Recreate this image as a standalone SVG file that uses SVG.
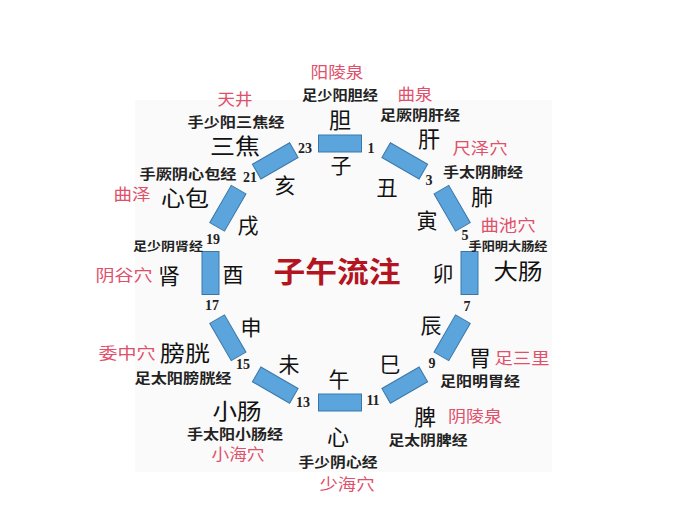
<svg xmlns="http://www.w3.org/2000/svg" xmlns:xlink="http://www.w3.org/1999/xlink" width="700" height="530" viewBox="0 0 700 530">
<style>
text{font-family:"Noto Sans CJK SC","Noto Sans CJK TC",sans-serif;text-anchor:middle;dominant-baseline:central}
.seg{fill:#5ba4dc;stroke:#3b78aa;stroke-width:1}
.br{font-size:21px;fill:#111}
.org{font-size:22px;fill:#111}
.mer{font-size:13.5px;font-weight:bold;fill:#222}
.mer2{font-size:12.5px;font-weight:bold;fill:#222}
.pt{font-size:16px;fill:#e0506b}
.num{font-family:"Liberation Serif","DejaVu Serif",serif;font-size:14px;font-weight:bold;fill:#222}
.title{font-size:29px;font-weight:bold;fill:#b3141f}
</style>
<defs>
<rect id="seg" x="318.5" y="135" width="43" height="17"/>
</defs>
<rect width="700" height="530" fill="#ffffff"/>
<rect x="135" y="100" width="417" height="372" fill="#fafafa"/>
<g id="title"><text class="title" x="337" y="270" textLength="127" lengthAdjust="spacingAndGlyphs">子午流注</text></g>
<g id="zi">
<use xlink:href="#seg" class="seg"/>
<text class="br" x="341" y="164">子</text>
<text class="org" x="340" y="118">胆</text>
<text class="mer" x="340" y="94" textLength="76" lengthAdjust="spacingAndGlyphs">足少阳胆经</text>
<text class="pt" x="337" y="71" textLength="53" lengthAdjust="spacingAndGlyphs">阳陵泉</text>
</g>
<g id="chou">
<use xlink:href="#seg" class="seg" transform="rotate(30 340 273)"/>
<text class="br" x="387" y="186">丑</text>
<text class="org" x="429" y="137">肝</text>
<text class="mer" x="420" y="114" textLength="80" lengthAdjust="spacingAndGlyphs">足厥阴肝经</text>
<text class="pt" x="415" y="93" textLength="35" lengthAdjust="spacingAndGlyphs">曲泉</text>
</g>
<g id="yin">
<use xlink:href="#seg" class="seg" transform="rotate(60 340 273)"/>
<text class="br" x="427" y="219">寅</text>
<text class="org" x="482" y="195">肺</text>
<text class="mer" x="483" y="171" textLength="80" lengthAdjust="spacingAndGlyphs">手太阴肺经</text>
<text class="pt" x="480" y="147" textLength="55" lengthAdjust="spacingAndGlyphs">尺泽穴</text>
</g>
<g id="mao">
<use xlink:href="#seg" class="seg" transform="rotate(90 340 273)"/>
<text class="br" x="443" y="272">卯</text>
<text class="org" x="518" y="269" textLength="49" lengthAdjust="spacingAndGlyphs">大肠</text>
<text class="mer2" x="508" y="245" textLength="79" lengthAdjust="spacingAndGlyphs">手阳明大肠经</text>
<text class="pt" x="508" y="224" textLength="55" lengthAdjust="spacingAndGlyphs">曲池穴</text>
</g>
<g id="chen">
<use xlink:href="#seg" class="seg" transform="rotate(120 340 273)"/>
<text class="br" x="431" y="324">辰</text>
<text class="org" x="480" y="356">胃</text>
<text class="mer" x="480" y="380" textLength="80" lengthAdjust="spacingAndGlyphs">足阳明胃经</text>
<text class="pt" x="522" y="357" textLength="55" lengthAdjust="spacingAndGlyphs">足三里</text>
</g>
<g id="si">
<use xlink:href="#seg" class="seg" transform="rotate(150 340 273)"/>
<text class="br" x="390" y="363">巳</text>
<text class="org" x="425" y="415">脾</text>
<text class="mer" x="428" y="439" textLength="79" lengthAdjust="spacingAndGlyphs">足太阴脾经</text>
<text class="pt" x="475" y="415" textLength="54" lengthAdjust="spacingAndGlyphs">阴陵泉</text>
</g>
<g id="wu">
<use xlink:href="#seg" class="seg" transform="rotate(180 340 273)"/>
<text class="br" x="339" y="378">午</text>
<text class="org" x="338" y="435">心</text>
<text class="mer" x="338" y="461" textLength="79" lengthAdjust="spacingAndGlyphs">手少阴心经</text>
<text class="pt" x="347" y="483" textLength="55" lengthAdjust="spacingAndGlyphs">少海穴</text>
</g>
<g id="wei">
<use xlink:href="#seg" class="seg" transform="rotate(210 340 273)"/>
<text class="br" x="289" y="363">未</text>
<text class="org" x="237" y="409" textLength="49" lengthAdjust="spacingAndGlyphs">小肠</text>
<text class="mer" x="235" y="433" textLength="96" lengthAdjust="spacingAndGlyphs">手太阳小肠经</text>
<text class="pt" x="238" y="453" textLength="53" lengthAdjust="spacingAndGlyphs">小海穴</text>
</g>
<g id="shen">
<use xlink:href="#seg" class="seg" transform="rotate(240 340 273)"/>
<text class="br" x="251" y="326">申</text>
<text class="org" x="185" y="351" textLength="50" lengthAdjust="spacingAndGlyphs">膀胱</text>
<text class="mer" x="183" y="377" textLength="97" lengthAdjust="spacingAndGlyphs">足太阳膀胱经</text>
<text class="pt" x="127" y="352" textLength="57" lengthAdjust="spacingAndGlyphs">委中穴</text>
</g>
<g id="you">
<use xlink:href="#seg" class="seg" transform="rotate(270 340 273)"/>
<text class="br" x="233" y="273">酉</text>
<text class="org" x="169" y="274">肾</text>
<text class="mer2" x="168" y="245" textLength="70" lengthAdjust="spacingAndGlyphs">足少阴肾经</text>
<text class="pt" x="124" y="274" textLength="57" lengthAdjust="spacingAndGlyphs">阴谷穴</text>
</g>
<g id="xu">
<use xlink:href="#seg" class="seg" transform="rotate(300 340 273)"/>
<text class="br" x="248" y="224">戌</text>
<text class="org" x="185" y="196" textLength="48" lengthAdjust="spacingAndGlyphs">心包</text>
<text class="mer" x="188" y="173" textLength="97" lengthAdjust="spacingAndGlyphs">手厥阴心包经</text>
<text class="pt" x="132" y="193" textLength="37" lengthAdjust="spacingAndGlyphs">曲泽</text>
</g>
<g id="hai">
<use xlink:href="#seg" class="seg" transform="rotate(330 340 273)"/>
<text class="br" x="285" y="184">亥</text>
<text class="org" x="235" y="144" textLength="50" lengthAdjust="spacingAndGlyphs">三焦</text>
<text class="mer" x="236" y="121" textLength="97" lengthAdjust="spacingAndGlyphs">手少阳三焦经</text>
<text class="pt" x="235" y="98" textLength="35" lengthAdjust="spacingAndGlyphs">天井</text>
</g>
<g id="hours">
<text class="num" x="305" y="148">23</text>
<text class="num" x="371" y="148">1</text>
<text class="num" x="429" y="180">3</text>
<text class="num" x="465" y="235">5</text>
<text class="num" x="467" y="306">7</text>
<text class="num" x="432" y="363">9</text>
<text class="num" x="373" y="400">11</text>
<text class="num" x="303" y="402">13</text>
<text class="num" x="243" y="364">15</text>
<text class="num" x="212" y="305">17</text>
<text class="num" x="213" y="239">19</text>
<text class="num" x="250" y="177">21</text>
</g>
<g id="connectors"/>
</svg>
